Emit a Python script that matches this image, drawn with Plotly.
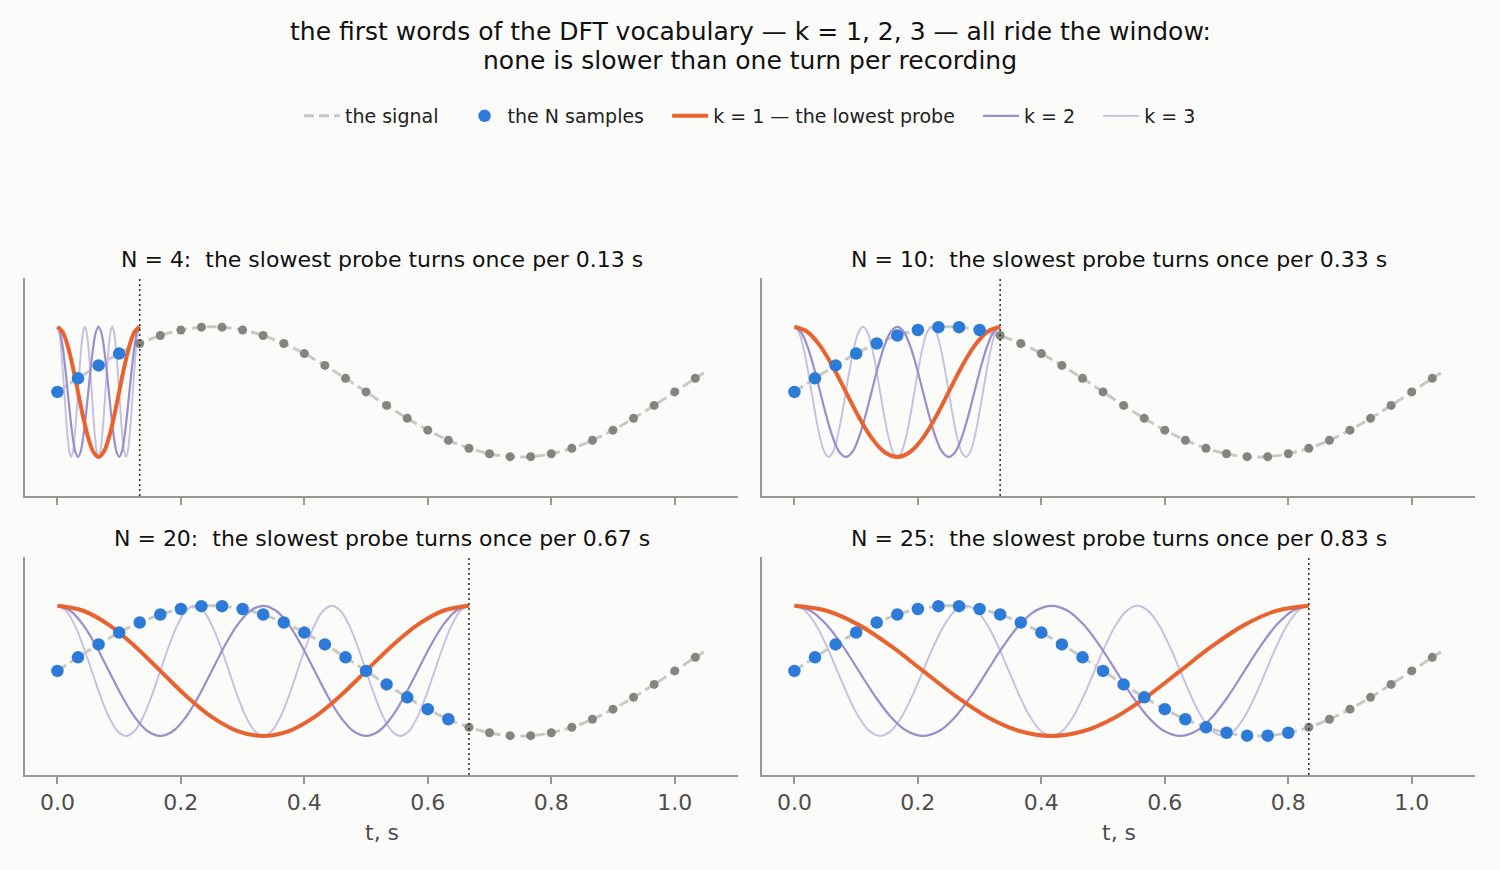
import plotly.graph_objects as go
from plotly.subplots import make_subplots

# the signal, read at 30 samples per second (one slow turn per second)
sample_t = [0.0, 0.0333, 0.0667, 0.1, 0.1333, 0.1667, 0.2, 0.2333, 0.2667, 0.3,
            0.3333, 0.3667, 0.4, 0.4333, 0.4667, 0.5, 0.5333, 0.5667, 0.6, 0.6333,
            0.6667, 0.7, 0.7333, 0.7667, 0.8, 0.8333, 0.8667, 0.9, 0.9333, 0.9667,
            1.0, 1.0333]
sample_y = [0.0, 0.208, 0.407, 0.588, 0.743, 0.866, 0.951, 0.995, 0.995, 0.951,
            0.866, 0.743, 0.588, 0.407, 0.208, 0.0, -0.208, -0.407, -0.588, -0.743,
            -0.866, -0.951, -0.995, -0.995, -0.951, -0.866, -0.743, -0.588, -0.407, -0.208,
            0.0, 0.208]
signal_end_t = 1.05
signal_end_y = 0.309

n_list = [4, 10, 20, 25]
window_s = [0.1333, 0.3333, 0.6667, 0.8333]
window_label = ["0.13", "0.33", "0.67", "0.83"]

# one turn of a probe, read every 1/16 of a turn
probe_turn = [1.0, 0.924, 0.707, 0.383, 0.0, -0.383, -0.707, -0.924,
              -1.0, -0.924, -0.707, -0.383, 0.0, 0.383, 0.707, 0.924]
probe_k = [1, 2, 3]
probe_names = ["k = 1 \u2014 the lowest probe", "k = 2", "k = 3"]

tick_vals = [0.0, 0.2, 0.4, 0.6, 0.8, 1.0]
tick_text = ["0.0", "0.2", "0.4", "0.6", "0.8", "1.0"]

BG = "#fbfbf9"
SIGNAL = "#c9c9c4"
GRAY_DOT = "#85857f"
BLUE = "#2d7bd8"
PROBE_COL = {1: "#e8632f", 2: "#9a8fcb", 3: "#c6bfe2"}
PROBE_W = {1: 4, 2: 2.2, 3: 1.9}
SPINE = "#999993"
FONT = "DejaVu Sans"
GAP = "\u00a0" * 3  # extra room after each legend label

W, H = 1500, 870


def px(x):
    return x / W


def py(y):
    return 1 - y / H


fig = make_subplots(rows=2, cols=2)

x_dom = [[px(25), px(738)], [px(762), px(1475)]]
y_dom = [[py(496), py(278)], [py(775), py(557)]]
title_y = [py(259), py(538)]

for i, n in enumerate(n_list):
    row, col = i // 2 + 1, i % 2 + 1
    first = i == 0
    T = window_s[i]

    fig.add_trace(go.Scatter(
        x=sample_t + [signal_end_t], y=sample_y + [signal_end_y], mode="lines",
        line=dict(color=SIGNAL, width=3, dash="10px,5px", shape="spline"),
        name="the signal" + GAP, showlegend=first, legendrank=1), row=row, col=col)

    for k in probe_k[::-1]:
        steps = 16 * k
        tx = [T * j / steps for j in range(steps + 1)]
        ty = [probe_turn[j % 16] for j in range(steps + 1)]
        label = probe_names[k - 1] + (GAP if k < 3 else "")
        fig.add_trace(go.Scatter(
            x=tx, y=ty, mode="lines",
            line=dict(color=PROBE_COL[k], width=PROBE_W[k], shape="spline"),
            name=label, showlegend=first, legendrank=2 + k),
            row=row, col=col)

    fig.add_trace(go.Scatter(
        x=sample_t[n:], y=sample_y[n:], mode="markers",
        marker=dict(color=GRAY_DOT, size=9), showlegend=False, hoverinfo="skip"),
        row=row, col=col)
    fig.add_trace(go.Scatter(
        x=sample_t[:n], y=sample_y[:n], mode="markers",
        marker=dict(color=BLUE, size=12.5), name="the N samples" + GAP,
        showlegend=first, legendrank=2), row=row, col=col)

    fig.add_shape(type="line", x0=T, x1=T, y0=0, y1=1, xref=f"x{i + 1 if i else ''}",
                  yref=f"y{i + 1 if i else ''} domain",
                  line=dict(color="#333333", width=1.6, dash="2px,3px"))

    fig.update_xaxes(domain=x_dom[col - 1], range=[-0.0525, 1.1025],
                     tickvals=tick_vals, ticktext=tick_text, ticks="outside",
                     ticklen=7, tickwidth=1.5, tickcolor=SPINE,
                     showticklabels=(row == 2), showline=True, linecolor=SPINE,
                     linewidth=1.5, showgrid=False, zeroline=False,
                     tickfont=dict(family=FONT, size=22, color="#4d4d4d"),
                     row=row, col=col)
    fig.update_yaxes(domain=y_dom[row - 1], range=[-1.6, 1.75], showline=True,
                     linecolor=SPINE, linewidth=1.5, showticklabels=False,
                     ticks="", showgrid=False, zeroline=False, row=row, col=col)

    fig.add_annotation(
        text=f"N = {n}:  the slowest probe turns once per {window_label[i]} s",
        x=sum(x_dom[col - 1]) / 2, y=title_y[row - 1],
        xref="paper", yref="paper", showarrow=False, xanchor="center", yanchor="middle",
        font=dict(family=FONT, size=22, color="#111111"))

for col in (1, 2):
    fig.add_annotation(text="t, s", x=sum(x_dom[col - 1]) / 2, y=py(832),
                       xref="paper", yref="paper", showarrow=False,
                       xanchor="center", yanchor="middle",
                       font=dict(family=FONT, size=22, color="#4d4d4d"))

fig.add_annotation(
    text="the first words of the DFT vocabulary \u2014 k = 1, 2, 3 \u2014 all ride the window:",
    x=px(750), y=py(31), xref="paper", yref="paper", showarrow=False,
    xanchor="center", yanchor="middle",
    font=dict(family=FONT, size=25, color="#111111"))
fig.add_annotation(
    text="none is slower than one turn per recording",
    x=px(750), y=py(61), xref="paper", yref="paper", showarrow=False,
    xanchor="center", yanchor="middle",
    font=dict(family=FONT, size=25, color="#111111"))

fig.update_layout(
    width=W, height=H, margin=dict(l=0, r=0, t=0, b=0),
    paper_bgcolor=BG, plot_bgcolor=BG,
    font=dict(family=FONT, size=19, color="#111111"),
    legend=dict(orientation="h", x=px(750), xanchor="center", y=py(116),
                yanchor="middle", font=dict(family=FONT, size=19, color="#222222"),
                bgcolor="rgba(0,0,0,0)", traceorder="normal", itemwidth=36),
)

# drop the page's default body margin so the figure fills the window
fig.write_html("out.html", config={"displayModeBar": False}, post_script=(
    "document.body.style.margin='0';"
    f"document.body.style.background='{BG}';"))
